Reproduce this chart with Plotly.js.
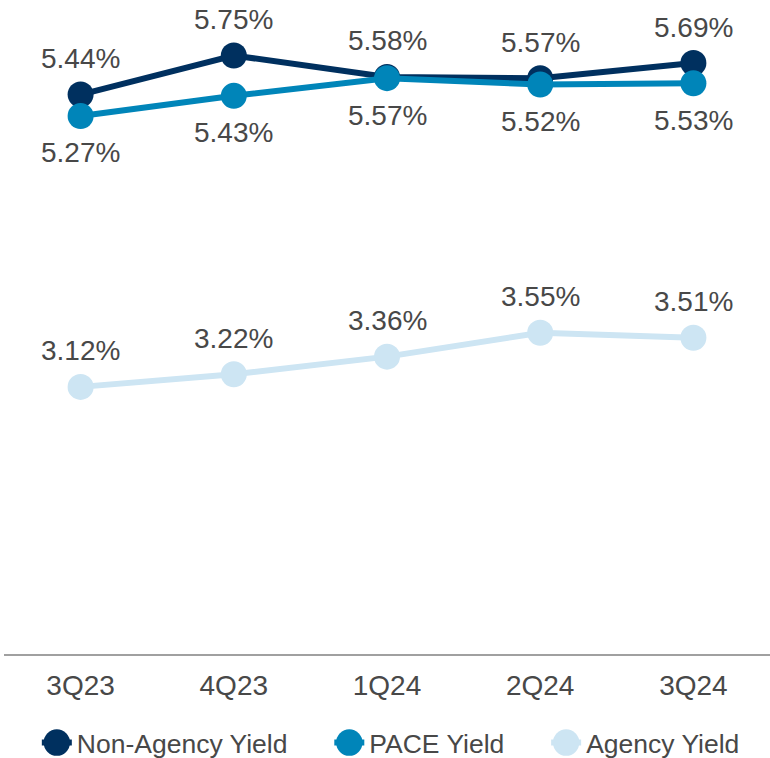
<!DOCTYPE html>
<html><head><meta charset="utf-8">
<script src="https://cdn.plot.ly/plotly-3.0.1.min.js"></script>
<style>html,body{margin:0;padding:0;background:#fff}</style>
</head><body><div id="chart" style="width:770px;height:758px"></div>
<script>
var quarters = ["3Q23","4Q23","1Q24","2Q24","3Q24"];
var nonAgencyYield = [5.44, 5.75, 5.58, 5.57, 5.69];
var paceYield = [5.27, 5.43, 5.57, 5.52, 5.53];
var agencyYield = [3.12, 3.22, 3.36, 3.55, 3.51];
var seriesNames = ["Non-Agency Yield", "PACE Yield", "Agency Yield"];

var FONT = "Liberation Sans, Arial, sans-serif";
var TXT = "#484848";
var NBSP = "\u00A0\u00A0\u00A0\u00A0\u00A0";

function tr(name, y, color){
  return {
    type: "scatter", mode: "lines+markers", name: name,
    x: quarters, y: y, cliponaxis: false,
    line: {color: color, width: 6},
    marker: {color: color, size: 26}
  };
}
var data = [
  tr(seriesNames[0] + NBSP, nonAgencyYield, "#00305F"),
  tr(seriesNames[1] + NBSP, paceYield, "#0085B9"),
  tr(seriesNames[2], agencyYield, "#CDE5F3")
];

var annotations = [];
function addLabels(vals, shift){
  vals.forEach(function(v, i){
    annotations.push({x: quarters[i], y: v, xref: "x", yref: "y",
      text: v.toFixed(2) + "%", showarrow: false, yshift: shift,
      font: {family: FONT, size: 28, color: TXT}});
  });
}
addLabels(nonAgencyYield, 36);
addLabels(paceYield, -37);
addLabels(agencyYield, 36);

var layout = {
  width: 770, height: 758,
  margin: {l: 4, r: 0, t: 23.5, b: 104, autoexpand: false},
  paper_bgcolor: "#fff", plot_bgcolor: "#fff",
  showlegend: true,
  legend: {orientation: "h", x: 0.505, xanchor: "center", y: -0.141, yanchor: "middle",
    font: {family: FONT, size: 26.5, color: TXT}, itemclick: false},
  annotations: annotations,
  xaxis: {type: "category", range: [-0.5, 4.5], showgrid: false, zeroline: false,
    showline: true, linecolor: "#A0A0A0", linewidth: 2, ticks: "",
    tickfont: {family: FONT, size: 28, color: TXT},
    ticklabelstandoff: 5},
  yaxis: {range: [1, 6], visible: false, showgrid: false, zeroline: false}
};
Plotly.newPlot("chart", data, layout, {displayModeBar: false, staticPlot: true}).then(function(gd){
  // enlarge legend symbols to match the reference
  gd.querySelectorAll(".legend .legendpoints path.scatterpts").forEach(function(p){
    var t = p.getAttribute("transform") || "";
    p.setAttribute("transform", t + " scale(1.65)");
  });
});
</script></body></html>
